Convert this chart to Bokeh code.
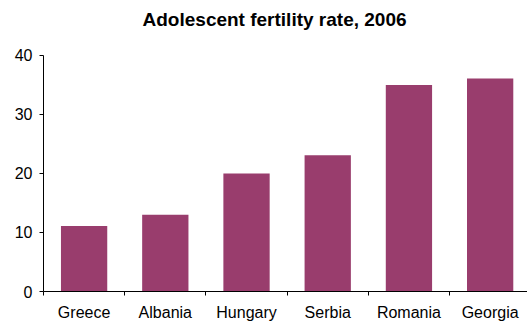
from bokeh.plotting import figure
from bokeh.models import ColumnDataSource, Range1d, FixedTicker, Label
from bokeh.embed import file_html
from bokeh.resources import INLINE

# Adolescent fertility rate (births per 1,000 women aged 15-19), 2006
countries = ["Greece", "Albania", "Hungary", "Serbia", "Romania", "Georgia"]
rates = [11.1, 13.0, 20.0, 23.1, 35.0, 36.1]
y_ticks = [0, 10, 20, 30, 40]
title_text = "Adolescent fertility rate, 2006"

positions = [i + 0.5 for i in range(len(countries))]
boundaries = list(range(len(countries) + 1))

source = ColumnDataSource(data=dict(x=positions, rate=rates, country=countries))

# the frame reaches the top of the canvas so the heading can sit inside it;
# the y axis itself stops at 40
p = figure(
    width=527, height=323,
    x_range=Range1d(0, 5.96), y_range=Range1d(0, 49.3),
    output_backend="svg", toolbar_location=None,
    min_border_left=43, min_border_right=0,
    min_border_top=0, min_border_bottom=31,
)

heading = Label(
    x=2.845, y=46.0, x_units="data", y_units="data",
    text=title_text, text_align="center", text_baseline="alphabetic",
    text_font="Liberation Sans", text_font_size="19px",
    text_font_style="bold", text_color="black",
)
p.add_layout(heading)

p.vbar(x="x", top="rate", width=0.57, source=source,
       fill_color="#993D6D", line_color=None)

p.outline_line_color = None
p.xgrid.grid_line_color = None
p.ygrid.grid_line_color = None

# y axis
p.yaxis.bounds = (0, 40)
p.yaxis.ticker = FixedTicker(ticks=y_ticks)
p.yaxis.axis_line_color = "black"
p.yaxis.major_tick_line_color = "black"
p.yaxis.major_tick_in = 0
p.yaxis.major_tick_out = 4
p.yaxis.minor_tick_line_color = None
p.yaxis.major_label_standoff = 7
p.yaxis.major_label_text_font = "Liberation Sans"
p.yaxis.major_label_text_font_size = "16px"
p.yaxis.major_label_text_color = "black"

# x axis: names under the bars, ticks between categories
p.xaxis.ticker = FixedTicker(ticks=positions, minor_ticks=boundaries)
p.xaxis.major_label_overrides = {x: c for x, c in zip(positions, countries)}
p.xaxis.axis_line_color = "black"
p.xaxis.major_tick_line_color = None
p.xaxis.minor_tick_line_color = "black"
p.xaxis.minor_tick_in = 0
p.xaxis.minor_tick_out = 4
p.xaxis.major_label_standoff = 6
p.xaxis.major_label_text_font = "Liberation Sans"
p.xaxis.major_label_text_font_size = "16px"
p.xaxis.major_label_text_color = "black"

open("out.html", "w").write(file_html(p, INLINE))
